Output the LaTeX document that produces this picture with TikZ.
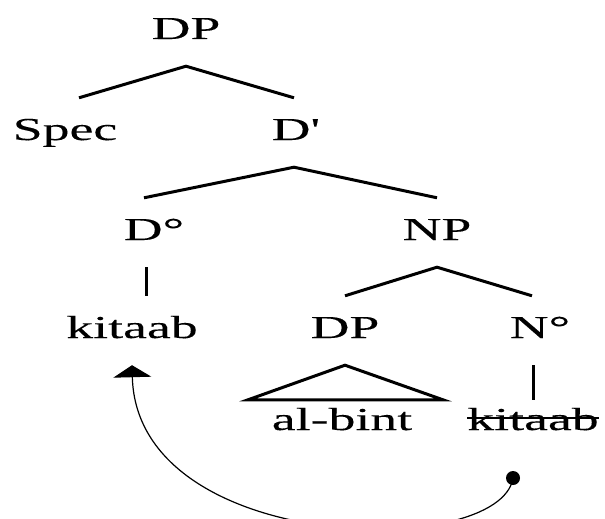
\documentclass[tikz,border=0pt]{standalone}
\usepackage{fontspec}
\setmainfont{Liberation Serif}[FakeStretch=1.68,FakeBold=0.2]
\usetikzlibrary{arrows.meta}

\begin{document}
\begin{tikzpicture}[x=1pt, y=-1pt, >={Triangle[width=38pt,length=12pt]},
    lab/.style={font=\fontsize{32}{38}\selectfont, anchor=base, inner xsep=0pt,
      inner ysep=20pt, text height=22pt, text depth=7pt},
    leaf/.style={lab, inner ysep=8pt},
    branch/.style={line width=3pt},
    move/.style={line width=1.2pt}]
\useasboundingbox (0,0) rectangle (605,519);

% labels of the tree
\node[lab] (dp) at (186,39) {DP};
\node[lab] (spec) at (65,140) {Spec};
\node[lab] (dbar) at (294,140) {D\textquotesingle};
\node[lab] (dzero) at (154,240) {D°};
\node[lab] (np) at (437,240) {NP};
\node[lab] (kit) at (132,338) {kitaab};
\node[lab] (dpb) at (345,338) {DP};
\node[lab] (nzero) at (540,338) {N°};
\node[leaf] (albint) at (342,430) {al-bint};
\node[leaf] (kitb) at (533,430) {kitaab};

% branches
\draw[branch] ([xshift=14pt]spec.north)--(dp.south)--(dbar.north);
\draw[branch] ([xshift=-10pt]dzero.north)--(dbar.south)--(np.north);
\draw[branch] (dpb.north)--(np.south)--([xshift=-8pt]nzero.north);
\draw[branch] ([xshift=-8pt]dzero.south)--([xshift=-8pt]dzero.south |- kit.north);
\draw[branch] (kitb |- nzero.south)--(kitb.north);
\draw[branch] ([xshift=-94pt]albint.north)--(dpb.south)--([xshift=101pt]albint.north)--cycle;

% trace and movement
\draw[line width=1.5pt] ([yshift=12pt]kitb.base west)--([yshift=12pt]kitb.base east);
\coordinate (trace) at ([xshift=-20pt,yshift=-48pt]kitb.base);
\fill (trace) circle (7pt);
\draw[move,->] (trace) .. controls +(-13,82) and +(5,190) .. (kit.south);
\end{tikzpicture}
\end{document}
